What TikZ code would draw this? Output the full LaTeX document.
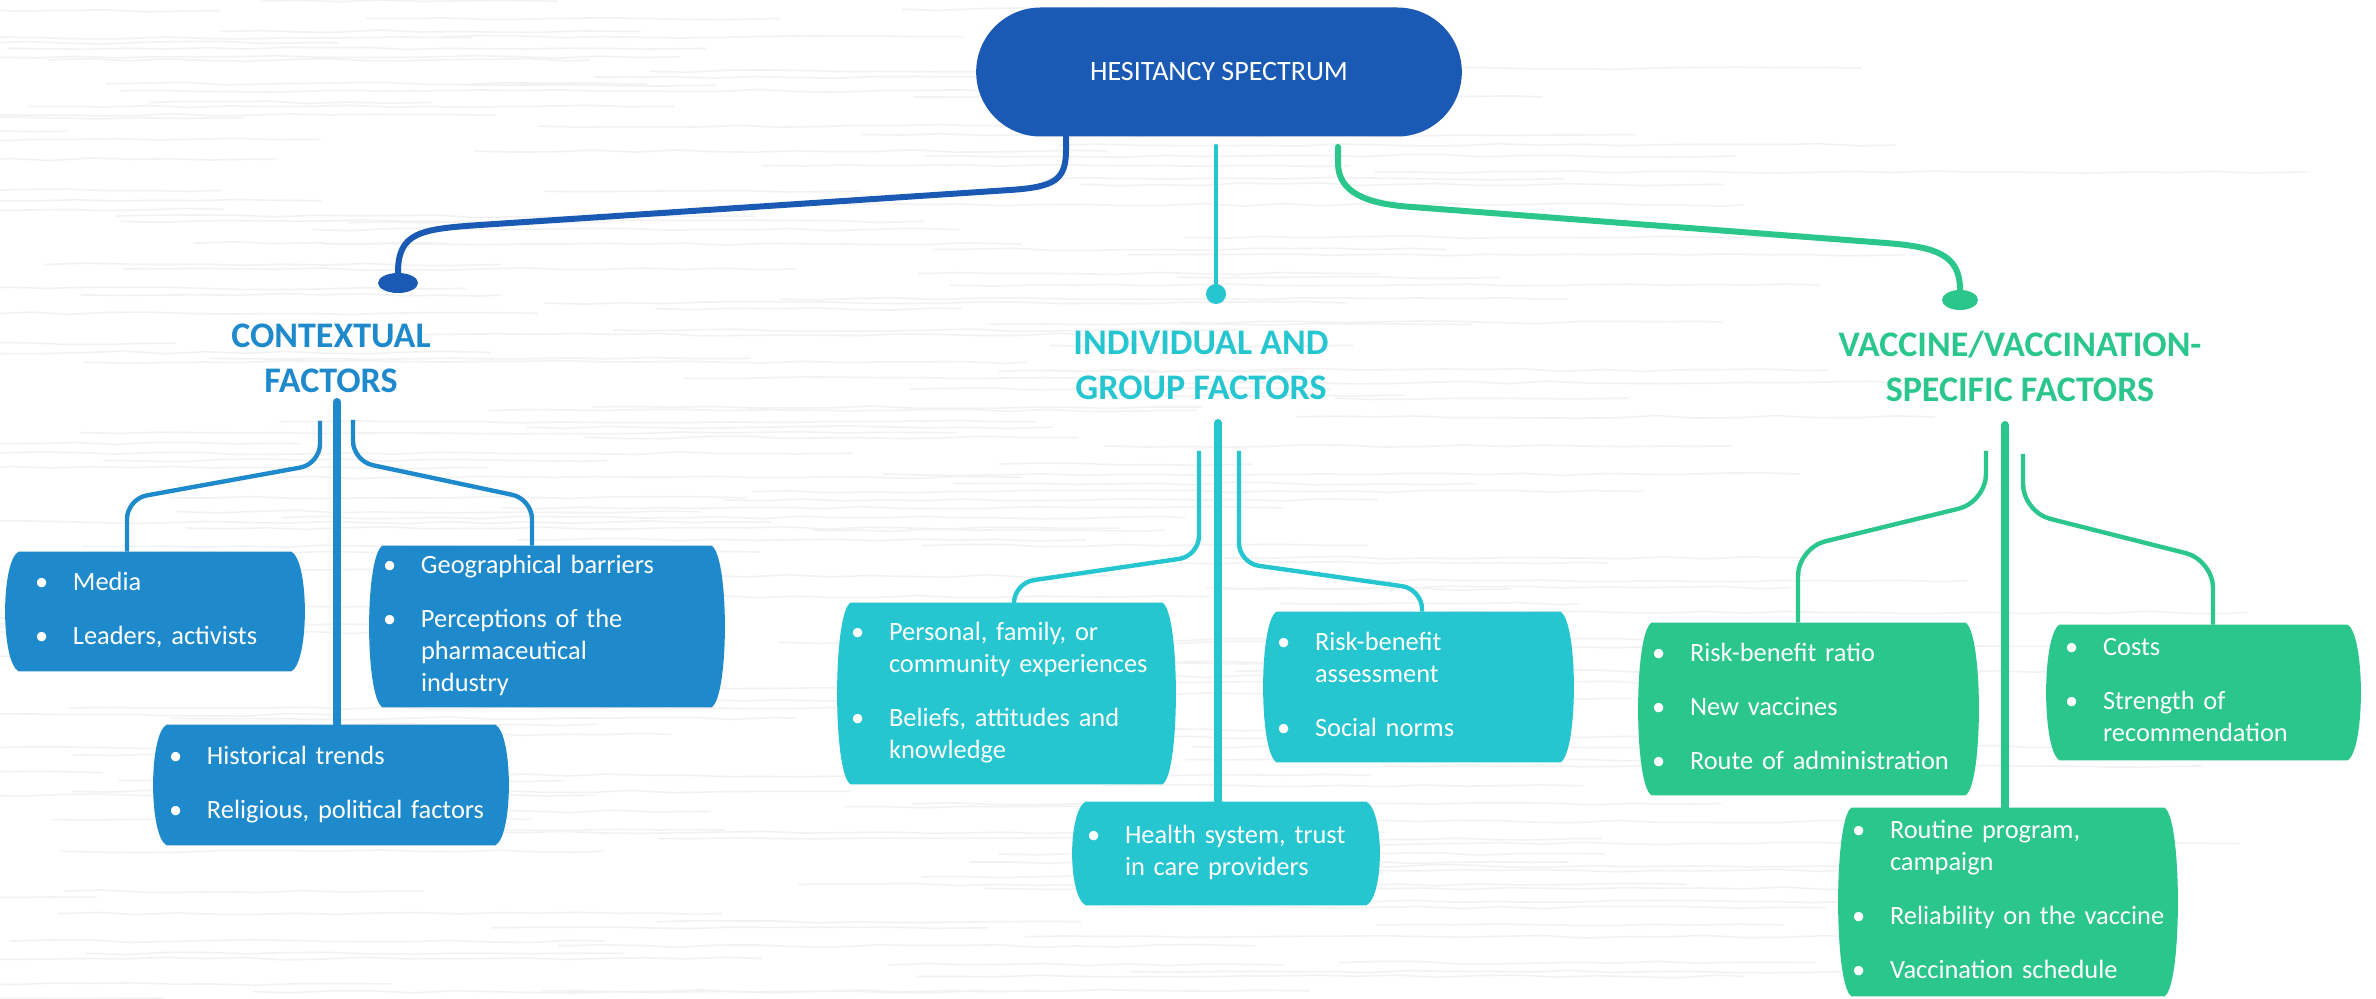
\documentclass[tikz,border=0pt]{standalone}
\usepackage{fontspec}
\setmainfont{Carlito}
\usetikzlibrary{shapes.geometric,shapes.misc,backgrounds,decorations.pathmorphing}

\definecolor{titleblue}{HTML}{1B5AB4}
\definecolor{ctxblue}{HTML}{1E8ACC}
\definecolor{indteal}{HTML}{26C6D0}
\definecolor{vacgreen}{HTML}{2AC68B}

% bullet lists inside the boxes
\newenvironment{bullets}{\begin{tabular}{@{}p{19pt}@{}l@{}}}{\end{tabular}}

% filled barrel behind a box node
\newcommand{\barrel}[2]{%
  \fill[#2] (#1.north west) -- (#1.north east)
    .. controls ([xshift=9pt,yshift=-5pt]#1.north east) and ([xshift=9pt,yshift=5pt]#1.south east) .. (#1.south east)
    -- (#1.south west)
    .. controls ([xshift=-9pt,yshift=5pt]#1.south west) and ([xshift=-9pt,yshift=-5pt]#1.north west) .. cycle;}

\tikzset{
  titlebox/.style={rounded rectangle, fill=titleblue, text=white, minimum width=249.5pt,
    minimum height=64.5pt, font=\fontsize{14}{17}\selectfont},
  head/.style={text=#1, font=\bfseries\fontsize{18}{22.5}\selectfont, align=center,
    inner sep=0pt, anchor=north},
  factbox/.code n args={3}{%
    \pgfmathsetlengthmacro\boxtw{#1-2*(#3)}%
    \tikzset{minimum width=#1, minimum height=#2, inner xsep=#3, inner ysep=0pt,
      text width/.expanded=\boxtw, align=left, text=white,
      font=\fontsize{13.2}{16}\selectfont}},
  dot/.style={fill=#1, inner sep=0pt},
  conn/.style={draw=#1, line cap=round},
  trunk/.style={draw=#1, line width=4pt, line cap=round},
  branch/.style={draw=#1, line width=2.2pt, rounded corners=10pt},
  grain/.style={draw=black!5, line width=0.8pt, decorate,
    decoration={random steps, segment length=20pt, amplitude=0.7pt}},
}

\begin{document}
\begin{tikzpicture}[x=0.5pt,y=-0.5pt]
  \useasboundingbox (0,0) rectangle (2376,999);
  \clip (0,0) rectangle (2376,999);

  % grain in the background
  \begin{scope}[on background layer]
    \pgfmathsetseed{42}
    \foreach \i in {0,...,189} {
      \pgfmathsetmacro{\gy}{\i*5.3+rnd*5}
      \pgfmathsetmacro{\gx}{rnd*1700-300}
      \pgfmathsetmacro{\gl}{250+rnd*700}
      \draw[grain] (\gx,\gy) -- ++(\gl,0);
    }
  \end{scope}

  % top
  \node[titlebox] (title) at (1219,72) {HESITANCY SPECTRUM};

  \node[head=ctxblue] (ctxhead) at (331,323) {CONTEXTUAL\\FACTORS};
  \node[head=indteal] (indhead) at (1201,331) {INDIVIDUAL AND\\GROUP FACTORS};
  \node[head=vacgreen] (vachead) at (2020,331) {VACCINE/VACCINATION-\\SPECIFIC FACTORS};

  \node[dot=titleblue, ellipse, minimum width=20pt, minimum height=10pt] (ctxdot) at (398,283) {};
  \node[dot=indteal, circle, minimum size=10pt] (inddot) at (1216,294) {};
  \node[dot=vacgreen, ellipse, minimum width=18pt, minimum height=10pt] (vacdot) at (1960,300) {};

  \draw[conn=titleblue, line width=3pt] ([xshift=-76.5pt]title.south) -- ++(0,13)
    .. controls +(0,30) and +(45,-3) .. (1010,190) -- (480,225)
    .. controls +(-60,4) and +(0,-40) .. (ctxdot.north);
  \draw[conn=indteal, line width=2pt] ([xshift=-1.5pt,yshift=-4.5pt]title.south) -- (inddot);
  \draw[conn=vacgreen, line width=3pt] ([xshift=59.5pt,yshift=-5pt]title.south) -- ++(0,16)
    .. controls +(0,30) and +(-45,-3) .. (1412,207) -- (1886,243)
    .. controls +(50,4) and +(0,-35) .. (vacdot.north);

  % contextual factors
  \node[factbox={136pt}{59.5pt}{8pt}] (media) at (155,611.5)
    {\begin{bullets}\textbullet & Media\\[11pt] \textbullet & Leaders, activists\end{bullets}};
  \node[factbox={164pt}{80.5pt}{0pt}] (geo) at (547,626.5)
    {\begin{bullets}\textbullet & Geographical barriers\\[11pt] \textbullet & Perceptions of the\\
      & pharmaceutical\\ & industry\end{bullets}};
  \node[factbox={164pt}{60pt}{1pt}] (hist) at (331,785)
    {\begin{bullets}\textbullet & Historical trends\\[11pt] \textbullet & Religious, political factors\end{bullets}};

  \coordinate (ctxroot) at (337,402);
  \coordinate (ctxL) at (320,421);
  \coordinate (ctxR) at (353,420);
  \draw[trunk=ctxblue] (ctxroot) -- (ctxroot |- hist.north);
  \draw[branch=ctxblue] (ctxL) -- (320,464) -- (127,499) -- (127,499 |- media.north);
  \draw[branch=ctxblue] (ctxR) -- (353,461) -- (532,499) -- (532,499 |- geo.north);

  % individual and group factors
  \node[factbox={155.5pt}{90.5pt}{0pt}] (personal) at (1006.5,693.5)
    {\begin{bullets}\textbullet & Personal, family, or\\ & community experiences\\[11pt]
      \textbullet & Beliefs, attitudes and\\ & knowledge\end{bullets}};
  \node[factbox={141.5pt}{75pt}{0pt}] (risk) at (1418.5,687)
    {\begin{bullets}\textbullet & Risk-benefit\\ & assessment\\[11pt] \textbullet & Social norms\end{bullets}};
  \node[factbox={140pt}{51.5pt}{0.5pt}] (health) at (1226,853.5)
    {\begin{bullets}\textbullet & Health system, trust\\ & in care providers\end{bullets}};

  \coordinate (indroot) at (1218,423);
  \coordinate (indL) at (1199,451);
  \coordinate (indR) at (1239,451);
  \draw[trunk=indteal] (indroot) -- (indroot |- health.north);
  \draw[branch=indteal] (indL) -- (1199,556) -- (1014,583) -- (1014,583 |- personal.north);
  \draw[branch=indteal] (indR) -- (1239,563) -- (1422,589) -- (1422,589 |- risk.north);

  % vaccine/vaccination-specific factors
  \node[factbox={156.5pt}{86pt}{0pt}] (rbr) at (1808.5,709)
    {\begin{bullets}\textbullet & Risk-benefit ratio\\[11pt] \textbullet & New vaccines\\[11pt]
      \textbullet & Route of administration\end{bullets}};
  \node[factbox={143.5pt}{67.5pt}{2.5pt}] (costs) at (2203.5,692.5)
    {\begin{bullets}\textbullet & Costs\\[11pt] \textbullet & Strength of\\ & recommendation\end{bullets}};
  \node[factbox={156pt}{94pt}{0pt}] (routine) at (2008,902)
    {\begin{bullets}\textbullet & Routine program,\\ & campaign\\[11pt] \textbullet & Reliability on the vaccine\\[11pt]
      \textbullet & Vaccination schedule\end{bullets}};

  \coordinate (vacroot) at (2005,425);
  \coordinate (vacL) at (1986,451);
  \coordinate (vacR) at (2023,454);
  \draw[trunk=vacgreen] (vacroot) -- (vacroot |- routine.north);
  \draw[branch=vacgreen, rounded corners=14pt] (vacL) -- (1986,502) -- (1798,548) -- (1798,548 |- rbr.north);
  \draw[branch=vacgreen, rounded corners=14pt] (vacR) -- (2023,512) -- (2213,560) -- (2213,560 |- costs.north);

  % box fills behind the texts
  \begin{scope}[on background layer]
    \foreach \n/\c in {media/ctxblue, geo/ctxblue, hist/ctxblue,
        personal/indteal, risk/indteal, health/indteal,
        rbr/vacgreen, costs/vacgreen, routine/vacgreen}
      {\barrel{\n}{\c}}
  \end{scope}
\end{tikzpicture}
\end{document}
